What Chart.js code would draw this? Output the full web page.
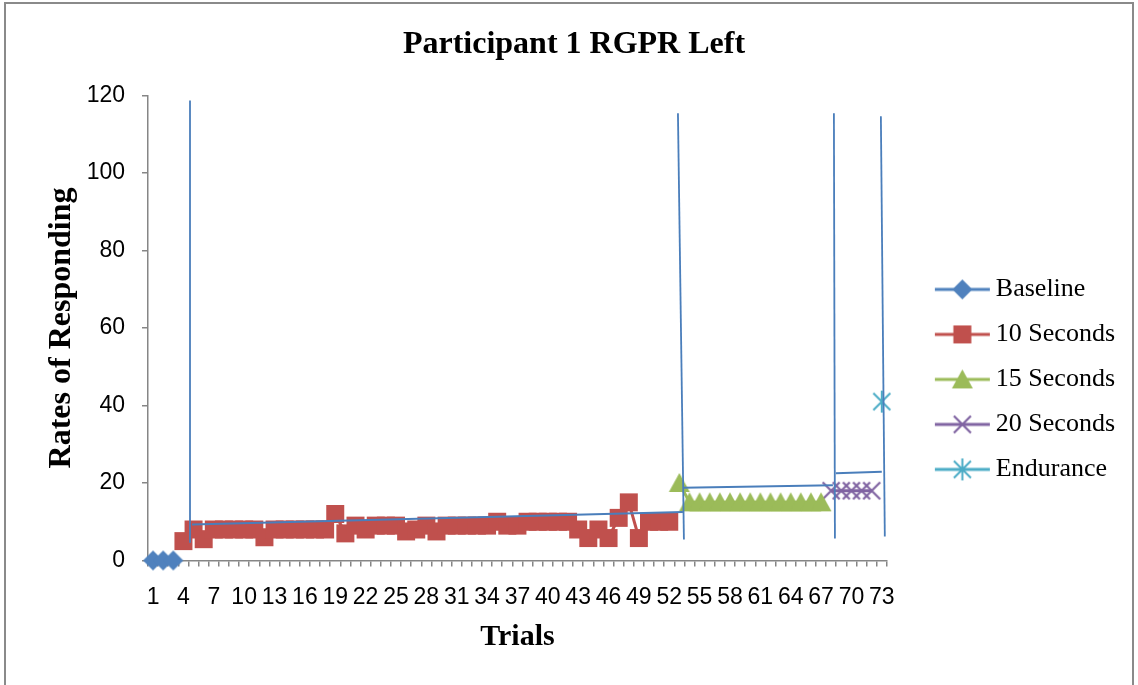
<!DOCTYPE html>
<html>
<head>
<meta charset="utf-8">
<title>Participant 1 RGPR Left</title>
<script src="https://cdn.jsdelivr.net/npm/chart.js@4.4.1/dist/chart.umd.min.js"></script>
<style>
  html, body { margin: 0; padding: 0; background: #fff; }
  #wrap { position: relative; width: 1138px; height: 685px; overflow: hidden; }
  #chart { position: absolute; left: 0; top: 0; }
  #frame { position: absolute; left: 4px; top: 2px; width: 1130px; height: 720px;
           border: 2px solid #8a8a8a; box-sizing: border-box; pointer-events: none; }
</style>
</head>
<body>
<div id="wrap">
  <canvas id="chart" width="1138" height="685"></canvas>
  <div id="frame"></div>
</div>
<script>
// categories (trial numbers) and the labels shown on the x axis
const trials = [1, 2, 3, 4, 5, 6, 7, 8, 9, 10, 11, 12, 13, 14, 15, 16, 17, 18, 19, 20,
  21, 22, 23, 24, 25, 26, 27, 28, 29, 30, 31, 32, 33, 34, 35, 36, 37, 38, 39, 40,
  41, 42, 43, 44, 45, 46, 47, 48, 49, 50, 51, 52, 53, 54, 55, 56, 57, 58, 59, 60,
  61, 62, 63, 64, 65, 66, 67, 68, 69, 70, 71, 72, 73];
const xTickLabels = ['1', '4', '7', '10', '13', '16', '19', '22', '25', '28', '31', '34', '37',
  '40', '43', '46', '49', '52', '55', '58', '61', '64', '67', '70', '73'];

// series values, one array per phase (first trial of each phase alongside)
const baselineStart = 1;
const baseline = [0, 0, 0];
const tenSecondsStart = 4;
const tenSeconds = [5, 8, 5.5, 8, 8, 8, 8, 8, 6, 8,
  8, 8, 8, 8, 8, 12, 7, 9, 8, 9,
  9, 9, 7.5, 8, 9, 7.5, 9, 9, 9, 9,
  9, 10, 9, 9, 10, 10, 10, 10, 10, 8,
  5.8, 8, 5.8, 11, 15, 5.8, 10, 10, 10];
const fifteenSecondsStart = 53;
const fifteenSeconds = [20, 15, 15, 15, 15, 15, 15, 15, 15, 15, 15, 15, 15, 15, 15];
const twentySecondsStart = 68;
const twentySeconds = [18, 18, 18, 18, 18];
const enduranceStart = 73;
const endurance = [41];

// phase change lines (hand drawn in the original), in axis units
const phaseLineTopX = [4.65, 52.86, 68.27, 72.91];
const phaseLineBottomX = [4.65, 53.45, 68.37, 73.3];
const phaseLineTopY = [118.7, 115.4, 115.4, 114.6];
const phaseLineBottomY = [4.6, 5.4, 5.7, 6.2];

// trend lines per phase, in axis units
const trendStartX = [4.85, 53.35, 68.46];
const trendEndX = [53.35, 68.17, 73.0];
const trendStartY = [9.3, 18.8, 22.5];
const trendEndY = [12.5, 19.4, 22.9];

const lineBlue = '#4A7EBB';
const axisGrey = '#868686';

// Excel-like markers drawn on small canvases
function drawMarker(g, kind, cx, cy, color) {
    g.fillStyle = color;
    g.strokeStyle = color;
    g.beginPath();
    if (kind === 'diamond') {
        g.moveTo(cx, cy - 10);
        g.lineTo(cx + 10, cy);
        g.lineTo(cx, cy + 10);
        g.lineTo(cx - 10, cy);
        g.closePath();
        g.fill();
    } else if (kind === 'square') {
        g.rect(cx - 9, cy - 9, 18, 18);
        g.fill();
    } else if (kind === 'triangle') {
        g.moveTo(cx, cy - 10);
        g.lineTo(cx + 10.5, cy + 9);
        g.lineTo(cx - 10.5, cy + 9);
        g.closePath();
        g.fill();
    } else if (kind === 'x') {
        g.lineWidth = 2.2;
        g.moveTo(cx - 8.5, cy - 8.5);
        g.lineTo(cx + 8.5, cy + 8.5);
        g.moveTo(cx + 8.5, cy - 8.5);
        g.lineTo(cx - 8.5, cy + 8.5);
        g.stroke();
    } else if (kind === 'star') {
        g.lineWidth = 2;
        g.moveTo(cx - 8.5, cy - 8.5);
        g.lineTo(cx + 8.5, cy + 8.5);
        g.moveTo(cx + 8.5, cy - 8.5);
        g.lineTo(cx - 8.5, cy + 8.5);
        g.moveTo(cx, cy - 11);
        g.lineTo(cx, cy + 11);
        g.stroke();
    }
}

function makeMarker(kind, color) {
    const c = document.createElement('canvas');
    c.width = 26;
    c.height = 26;
    drawMarker(c.getContext('2d'), kind, 13, 13, color);
    return c;
}

// legend symbol: the visible line+marker sits in the right part of a wider canvas,
// so the legend can start right at the plot edge and still leave the gap
const legendBoxWidth = 77;
function makeLegendIcon(kind, color) {
    const c = document.createElement('canvas');
    c.width = legendBoxWidth + 16;
    c.height = 28;
    const g = c.getContext('2d');
    const right = c.width - 1;
    g.strokeStyle = color;
    g.lineWidth = 3;
    g.beginPath();
    g.moveTo(right - 55, 14);
    g.lineTo(right, 14);
    g.stroke();
    drawMarker(g, kind, right - 27.5, 14, color);
    return c;
}

function seriesPoints(start, values) {
    const first = trials.indexOf(start);
    return values.map((v, i) => ({ x: trials[first + i], y: v }));
}

const seriesDefs = [
    { label: 'Baseline', start: baselineStart, values: baseline, color: '#4F81BD', marker: 'diamond' },
    { label: '10 Seconds', start: tenSecondsStart, values: tenSeconds, color: '#C0504D', marker: 'square' },
    { label: '15 Seconds', start: fifteenSecondsStart, values: fifteenSeconds, color: '#9BBB59', marker: 'triangle' },
    { label: '20 Seconds', start: twentySecondsStart, values: twentySeconds, color: '#8064A2', marker: 'x' },
    { label: 'Endurance', start: enduranceStart, values: endurance, color: '#4BACC6', marker: 'star' }
];

const datasets = [];

// phase lines and trend lines sit on top of the markers
phaseLineTopX.forEach((x, i) => {
    datasets.push({
        data: [{ x: x, y: phaseLineTopY[i] }, { x: phaseLineBottomX[i], y: phaseLineBottomY[i] }],
        borderColor: lineBlue, borderWidth: 1.8, pointRadius: 0, order: 0, clip: false, inLegend: false
    });
});
trendStartX.forEach((x, i) => {
    datasets.push({
        data: [{ x: x, y: trendStartY[i] }, { x: trendEndX[i], y: trendEndY[i] }],
        borderColor: lineBlue, borderWidth: 2, pointRadius: 0, order: 0, clip: false, inLegend: false
    });
});

const legendIcons = {};
seriesDefs.forEach(s => {
    const ds = {
        label: s.label,
        data: seriesPoints(s.start, s.values),
        borderColor: s.color,
        backgroundColor: s.color,
        borderWidth: 3,
        pointStyle: makeMarker(s.marker, s.color),
        pointRadius: 10,
        order: 1,
        clip: false,
        inLegend: true
    };
    legendIcons[datasets.length] = makeLegendIcon(s.marker, s.color);
    datasets.push(ds);
});

const ctx = document.getElementById('chart').getContext('2d');
new Chart(ctx, {
    type: 'line',
    data: { datasets: datasets },
    options: {
        responsive: false,
        animation: false,
        events: [],
        layout: { padding: { left: 23, right: 13, top: 0, bottom: 30 } },
        plugins: {
            tooltip: { enabled: false },
            title: {
                display: true,
                text: 'Participant 1 RGPR Left',
                color: '#000',
                font: { family: 'Liberation Serif', size: 32, weight: 'bold' },
                padding: { top: 26, bottom: 31 }
            },
            legend: {
                position: 'right',
                align: 'start',
                fullSize: false,
                title: { display: true, text: '', font: { size: 10 }, padding: { top: 150, bottom: 0 } },
                labels: {
                    color: '#000',
                    font: { family: 'Liberation Serif', size: 26 },
                    usePointStyle: true,
                    pointStyleWidth: legendBoxWidth,
                    padding: 19,
                    sort: (a, b) => a.datasetIndex - b.datasetIndex,
                    filter: (item, data) => data.datasets[item.datasetIndex].inLegend,
                    generateLabels: chart => {
                        const items = Chart.defaults.plugins.legend.labels.generateLabels(chart);
                        items.forEach(it => {
                            if (legendIcons[it.datasetIndex]) it.pointStyle = legendIcons[it.datasetIndex];
                        });
                        return items;
                    }
                }
            }
        },
        scales: {
            x: {
                type: 'linear',
                min: 0.5,
                max: 73.5,
                afterBuildTicks: scale => {
                    scale.ticks = trials.map(t => ({ value: t }));
                },
                afterFit: scale => { scale.height = 94.5; },
                grid: { offset: true, drawOnChartArea: false, drawTicks: true, tickLength: 6, color: axisGrey, lineWidth: 1.5 },
                border: { color: axisGrey, width: 1.5 },
                ticks: {
                    autoSkip: false,
                    maxRotation: 0,
                    padding: 17,
                    color: '#000',
                    font: { family: 'Liberation Sans', size: 23 },
                    callback: value => xTickLabels.includes(String(value)) ? String(value) : ''
                },
                title: {
                    display: true,
                    text: 'Trials',
                    color: '#000',
                    font: { family: 'Liberation Serif', size: 30, weight: 'bold' },
                    padding: { top: 9.5, bottom: 0 }
                }
            },
            y: {
                min: 0,
                max: 120,
                afterFit: scale => { scale.width = 125; },
                grid: { drawOnChartArea: false, drawTicks: true, tickLength: 6, color: axisGrey, lineWidth: 1.5 },
                border: { color: axisGrey, width: 1.5 },
                ticks: {
                    stepSize: 20,
                    padding: 17,
                    color: '#000',
                    font: { family: 'Liberation Sans', size: 23 }
                },
                title: {
                    display: true,
                    text: 'Rates of Responding',
                    color: '#000',
                    font: { family: 'Liberation Serif', size: 32, weight: 'bold' },
                    padding: { top: 20, bottom: 0 }
                }
            }
        }
    }
});
</script>
</body>
</html>
